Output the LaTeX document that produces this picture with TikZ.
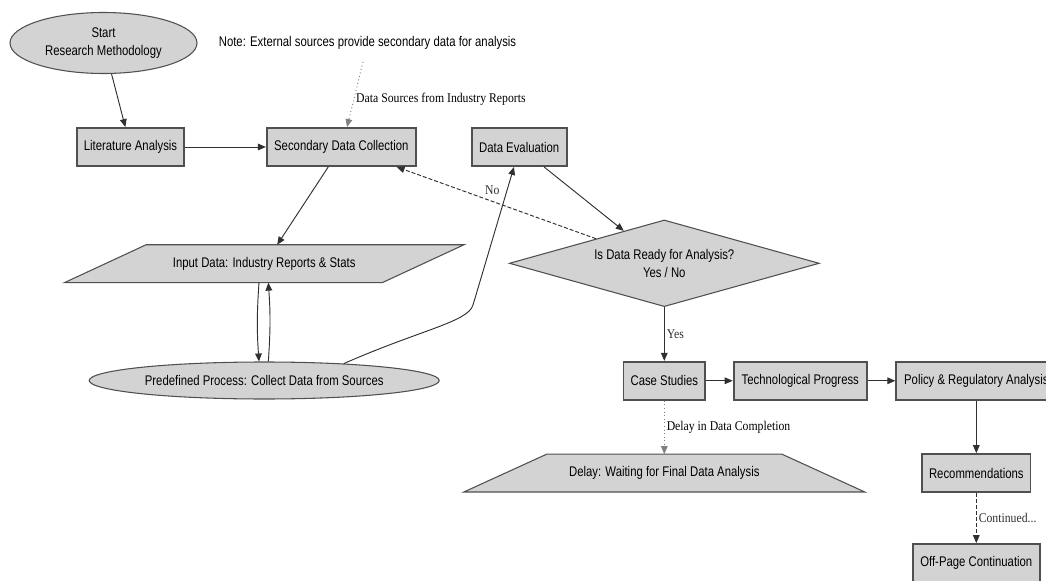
\documentclass[tikz,border=0pt]{standalone}
\usepackage{fontspec}
\setmainfont{Liberation Sans}[FakeStretch=0.81]
\newfontfamily\labelfont{Liberation Serif}[FakeStretch=0.88]
\usepackage{tikz}
\usetikzlibrary{arrows.meta,shapes.geometric,positioning,backgrounds}
\definecolor{shapeFill}{HTML}{D3D3D3}
\definecolor{shapeLine}{HTML}{505050}
\definecolor{edgeLine}{HTML}{303030}

\begin{document}
\begin{tikzpicture}[x=0.75pt, y=-0.75pt, on grid, >={Triangle[length=6pt,width=5pt]}, font=\fontsize{10.5}{13.5}\selectfont]
  \tikzstyle{process} = [draw=shapeLine, line width=1.4pt, fill=shapeFill, rectangle, minimum height=28.5pt, inner sep=0pt]
  \tikzstyle{terminal} = [draw=shapeLine, line width=0.8pt, fill=shapeFill, ellipse, inner sep=0pt, align=center]
  \tikzstyle{decision} = [draw=shapeLine, line width=0.8pt, fill=shapeFill, diamond, aspect=3.58, inner sep=0pt, align=center, minimum width=232.5pt, minimum height=65pt]
  \tikzstyle{slantText} = [rectangle, inner sep=0pt, minimum width=238pt, minimum height=28pt]
  \tikzstyle{slantShape} = [draw=shapeLine, line width=0.8pt, fill=shapeFill, line join=miter]
  \tikzstyle{flowEdge} = [edgeLine, line width=0.7pt, ->]
  \tikzstyle{edgeLabel} = [font={\labelfont\fontsize{10}{12}\selectfont}, inner sep=1.5pt]

  \useasboundingbox (0,0) rectangle (1046,581);

  \node[terminal, minimum width=140.25pt, minimum height=45.75pt](start) at (103.5,43) {Start\\Research Methodology};
  \node(note) at (367.5,43) {Note: External sources provide secondary data for analysis};
  \coordinate (noteFoot) at (363,62);
  \node[process, minimum width=80.25pt](lit) at (130.5,147) {Literature Analysis};
  \node[process, minimum width=111.75pt](sdc) [right=158.1pt of lit] {Secondary Data Collection};
  \node[process, minimum width=71.25pt](eval) [right=133.4pt of sdc] {Data Evaluation};
  \node[decision](ready) at (664.3,263.3) {Is Data Ready for Analysis?\\Yes / No};
  \node[slantText](input) at (264.2,263.7) {Input Data: Industry Reports \& Stats};
  \node[terminal, minimum width=262.5pt, minimum height=27.75pt](predef) [below=87.6pt of input] {Predefined Process: Collect Data from Sources};
  \node[process, minimum width=61.3pt](cases) [below=88.1pt of ready] {Case Studies};
  \node[process, minimum width=100pt](tech) [right=102pt of cases] {Technological Progress};
  \node[process, minimum width=120pt](policy) [right=132pt of tech] {Policy \& Regulatory Analysis};
  \node[process, minimum width=81.25pt](recom) [below=69.2pt of policy] {Recommendations};
  \node[process, minimum width=95.25pt](offpage) [below=67.5pt of recom] {Off-Page Continuation};
  \node[slantText](delay) [below=69.2pt of cases] {Delay: Waiting for Final Data Analysis};

  \begin{scope}[on background layer]
    \fill[white] (0,0) rectangle (1046,581);
    \draw[slantShape] ([xshift=30.6pt]input.north west) -- ([xshift=30.6pt]input.north east)
      -- ([xshift=-30.6pt]input.south east) -- ([xshift=-30.6pt]input.south west) -- cycle;
    \draw[slantShape] ([xshift=31.1pt]delay.north west) -- ([xshift=-31.1pt]delay.north east)
      -- ([xshift=31.1pt]delay.south east) -- ([xshift=-31.1pt]delay.south west) -- cycle;
  \end{scope}

  \path[flowEdge]
    (start) edge (lit)
    (lit) edge (sdc)
    (sdc) edge ([xshift=9.75pt]input.north)
    ([xshift=-3.9pt]input.south) edge[bend right=4] ([xshift=-3.9pt]predef.north)
    ([xshift=3.1pt]predef.north) edge[bend right=4] ([xshift=3.1pt]input.south)
    (eval) edge (ready)
    (ready) edge[dash pattern=on 3pt off 1.5pt] node[edgeLabel, above=3pt, pos=0.52] {No} (sdc)
    (ready) edge node[edgeLabel, right] {Yes} (cases)
    (cases) edge (tech)
    (tech) edge (policy)
    (policy) edge (recom)
    (recom) edge[dash pattern=on 3pt off 1.5pt] node[edgeLabel, right] {Continued...} (offpage)
    (cases) edge[dotted, gray] node[edgeLabel, right, black] {Delay in Data Completion} (delay);
  \draw[flowEdge, dotted, gray] (noteFoot) -- node[edgeLabel, right, pos=0.58, black] {Data Sources from Industry Reports} ([xshift=4.3pt]sdc.north);
  \draw[flowEdge] (predef.12) .. controls (420,330) and (468,322) .. (473,305) -- ([xshift=-3.9pt]eval.south);
\end{tikzpicture}
\end{document}
